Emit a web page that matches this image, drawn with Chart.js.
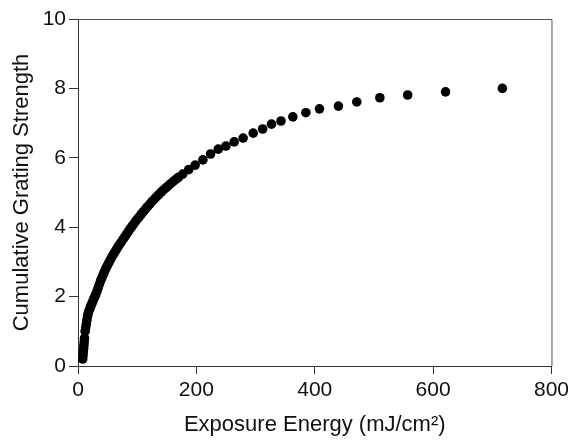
<!DOCTYPE html>
<html>
<head>
<meta charset="utf-8">
<script src="https://cdn.jsdelivr.net/npm/chart.js@4.4.0/dist/chart.umd.min.js"></script>
<style>
  html, body { margin: 0; padding: 0; background: #fff; }
  #wrap { width: 573px; height: 441px; }
</style>
</head>
<body>
<div id="wrap"><canvas id="chart" width="573" height="441"></canvas></div>
<script>
// exposure energy (mJ/cm2) and cumulative grating strength
const energy = [
  8, 8.5, 9, 9.5, 10, 10.5, 11, 12, 13, 14, 15, 16, 17, 18, 19.5, 21, 22.5, 24, 25.5, 27,
  28.5, 30, 32, 34, 36, 38, 40, 42, 44, 46, 48, 50, 52.5, 55, 57.5, 60, 62.5, 65, 67.5, 70,
  73, 76, 79, 82, 85, 88, 91, 94, 97, 100, 103.5, 107, 110.5, 114, 117.5, 121, 125, 129, 133, 137,
  141, 145, 149, 153, 157, 161, 165.5, 170, 177, 187, 198, 211, 224, 237,
  250, 264, 279, 296, 312, 327, 343, 363, 385, 408,
  440, 471, 510, 557, 621, 717
];
const strength = [
  0.2, 0.3, 0.4, 0.5, 0.6, 0.7, 0.8, 1.0, 1.1, 1.2, 1.32, 1.42, 1.5, 1.56, 1.63, 1.7, 1.76, 1.82, 1.88, 1.95,
  2.0, 2.06, 2.15, 2.25, 2.35, 2.45, 2.53, 2.61, 2.69, 2.77, 2.84, 2.91, 2.99, 3.07, 3.15, 3.22, 3.29, 3.36, 3.43, 3.5,
  3.57, 3.65, 3.72, 3.8, 3.87, 3.95, 4.02, 4.09, 4.16, 4.23, 4.3, 4.38, 4.45, 4.52, 4.59, 4.66, 4.74, 4.81, 4.88, 4.95,
  5.02, 5.08, 5.14, 5.2, 5.26, 5.32, 5.38, 5.44, 5.53, 5.66, 5.79, 5.94, 6.11, 6.25,
  6.34, 6.46, 6.57, 6.71, 6.83, 6.97, 7.06, 7.18, 7.3, 7.41,
  7.49, 7.61, 7.73, 7.81, 7.9, 8.0
];
const xTicks = [0, 200, 400, 600, 800];
const yTicks = [0, 2, 4, 6, 8, 10];

const points = energy.map((e, i) => ({ x: e, y: strength[i] }));
const FONT = "'Liberation Sans', Arial, Helvetica, sans-serif";
const INK = "#111";

// draws the top and right sides of the plot box
const frameBox = {
  id: "frameBox",
  beforeDatasetsDraw(chart) {
    const { ctx, chartArea: a } = chart;
    ctx.save();
    ctx.strokeStyle = "#555";
    ctx.lineWidth = 1;
    ctx.beginPath();
    ctx.moveTo(a.left, a.top + 0.5);
    ctx.lineTo(a.right + 0.5, a.top + 0.5);
    ctx.lineTo(a.right + 0.5, a.bottom);
    ctx.stroke();
    ctx.restore();
  }
};

new Chart(document.getElementById("chart"), {
  type: "scatter",
  data: {
    datasets: [{
      data: points,
      backgroundColor: "#000",
      borderColor: "#000",
      pointRadius: 4.8,
      pointHoverRadius: 4.8,
      borderWidth: 0
    }]
  },
  options: {
    responsive: false,
    animation: false,
    events: [],
    layout: { padding: { top: 19, right: 20, left: 0, bottom: 0 } },
    plugins: { legend: { display: false }, tooltip: { enabled: false } },
    scales: {
      x: {
        type: "linear",
        min: 0, max: 800,
        afterBuildTicks: s => { s.ticks = xTicks.map(v => ({ value: v })); },
        afterFit: s => { s.height = 75; },
        border: { color: "#333", width: 1 },
        grid: { drawOnChartArea: false, tickLength: 8, color: "#333" },
        ticks: { font: { family: FONT, size: 21 }, color: INK, padding: 4, maxRotation: 0 },
        title: {
          display: true,
          text: "Exposure Energy (mJ/cm²)",
          font: { family: FONT, size: 22 },
          color: INK,
          padding: { top: 0, bottom: 3 }
        }
      },
      y: {
        type: "linear",
        min: 0, max: 10,
        afterBuildTicks: s => { s.ticks = yTicks.map(v => ({ value: v })); },
        afterFit: s => { s.width = 78; },
        border: { color: "#333", width: 1 },
        grid: { drawOnChartArea: false, tickLength: 9, color: "#333" },
        ticks: { font: { family: FONT, size: 21 }, color: INK, padding: 3 },
        title: {
          display: true,
          text: "Cumulative Grating Strength",
          font: { family: FONT, size: 22 },
          color: INK,
          padding: { top: 9, bottom: 0 }
        }
      }
    }
  },
  plugins: [frameBox]
});
</script>
</body>
</html>
